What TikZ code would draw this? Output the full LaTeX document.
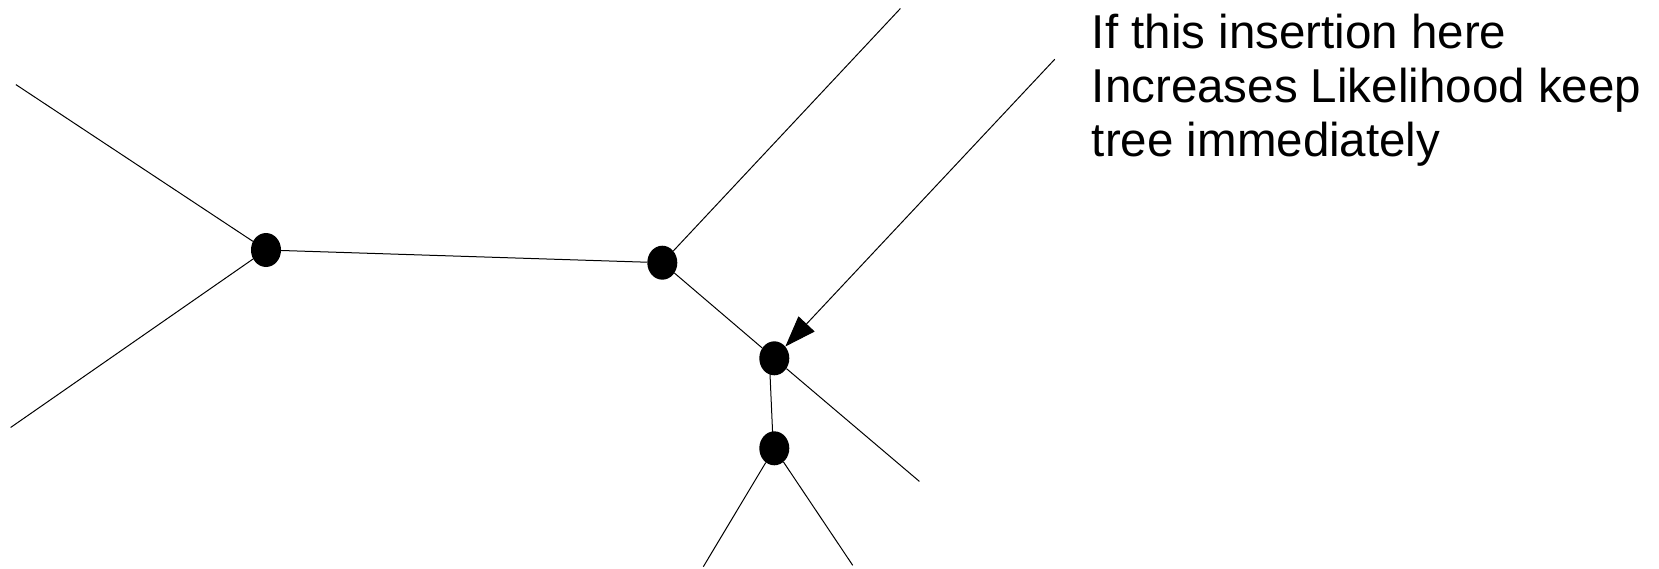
\documentclass[tikz,border=0pt]{standalone}
\usepackage{fontspec}
\setmainfont{Liberation Sans}
\usetikzlibrary{shapes.geometric,arrows.meta}
\begin{document}
\begin{tikzpicture}[x=1pt,y=-1pt,
  vert/.style={ellipse,fill=black,draw=none,minimum width=30pt,minimum height=34pt,inner sep=0pt},
  edge/.style={line width=1pt,black},
  note/.style={anchor=base west,inner sep=0pt,align=left,font=\fontsize{47.5pt}{54pt}\selectfont}]
\useasboundingbox (0,0) rectangle (1659,568);
\node[vert] (A) at (266,250) {};
\node[vert] (B) at (662.3,262.7) {};
\node[vert] (C) at (774.3,358.3) {};
\node[vert] (D) at (774.3,448.3) {};
\coordinate (a1) at (15.9,84.6);
\coordinate (a2) at (10.6,427.5);
\coordinate (b1) at (900.4,8.5);
\coordinate (c1) at (919.4,481.4);
\coordinate (d1) at (703.3,566.7);
\coordinate (d2) at (852.7,565.3);
\coordinate (s) at (1054.8,59.2);
\draw[edge] (a1) -- (A);
\draw[edge] (a2) -- (A);
\draw[edge] (A) -- (B);
\draw[edge] (B) -- (b1);
\draw[edge] (B) -- (C);
\draw[edge] (C) -- (c1);
\draw[edge] ([xshift=-5pt]C.center) -- ([xshift=-1pt]D.center);
\draw[edge] (D) -- (d1);
\draw[edge] (D) -- (d2);
\draw[edge,-{Triangle[length=31pt,width=22pt]}] (s) -- (C);
\node[note] (t) at (1091.7,156.7) {If this insertion here\\Increases Likelihood keep\\tree immediately};
\end{tikzpicture}
\end{document}
